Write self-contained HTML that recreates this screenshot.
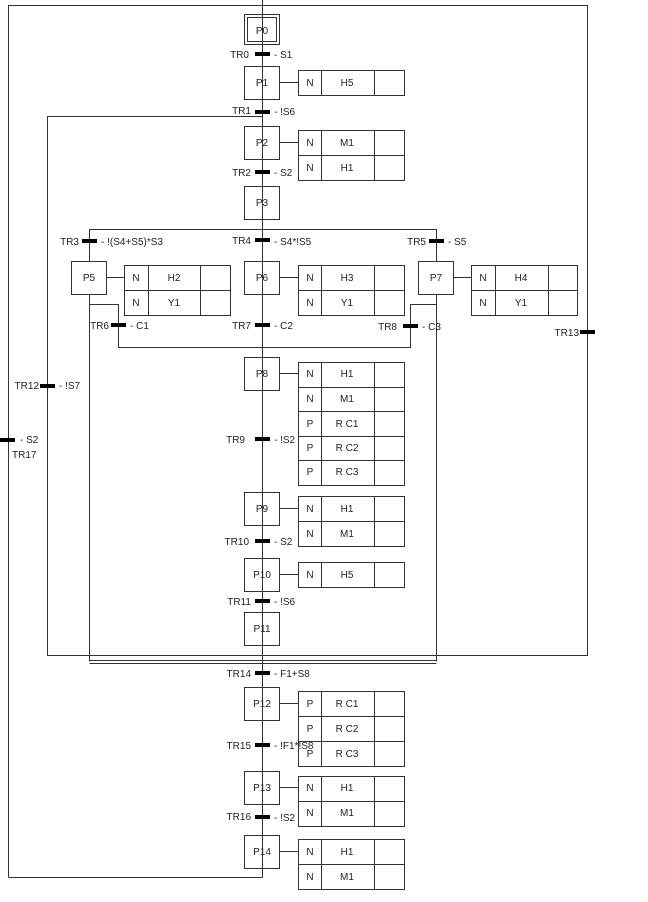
<!DOCTYPE html>
<html><head><meta charset="utf-8"><style>
html,body{margin:0;padding:0;background:#fff;width:648px;height:902px;overflow:hidden}
svg text{font-family:"Liberation Sans",Arial,sans-serif;font-size:10px;fill:#222}
</style></head><body>
<svg width="648" height="902" viewBox="0 0 648 902" xmlns="http://www.w3.org/2000/svg" shape-rendering="crispEdges">
<g stroke="#333" stroke-width="1" fill="none">
<!-- outer loops -->
<polyline points="8.5,877.5 8.5,5.5 587.5,5.5 587.5,655.5 47.5,655.5 47.5,116.5 262.5,116.5"/>
<line x1="8.5" y1="877.5" x2="262.5" y2="877.5"/>
<!-- main axis -->
<line x1="262.5" y1="0" x2="262.5" y2="877.5"/>
<!-- parallel rect -->
<polyline points="89.5,661.5 89.5,229.5 436.5,229.5 436.5,661.5"/>
<line x1="89.5" y1="660.5" x2="436.5" y2="660.5"/>
<line x1="89.5" y1="663.5" x2="436.5" y2="663.5"/>
<polyline points="89.5,304.5 118.5,304.5 118.5,347.5 410.5,347.5 410.5,304.5 436.5,304.5"/>
<!-- steps -->
<g fill="#fff">
<rect x="244.5" y="14.5" width="35" height="30"/>
<rect x="244.5" y="66.5" width="35" height="33"/>
<rect x="244.5" y="126.5" width="35" height="33"/>
<rect x="244.5" y="186.5" width="35" height="33"/>
<rect x="71.5" y="261.5" width="35" height="33"/>
<rect x="244.5" y="261.5" width="35" height="33"/>
<rect x="418.5" y="261.5" width="35" height="33"/>
<rect x="244.5" y="357.5" width="35" height="33"/>
<rect x="244.5" y="492.5" width="35" height="33"/>
<rect x="244.5" y="558.5" width="35" height="33"/>
<rect x="244.5" y="612.5" width="35" height="33"/>
<rect x="244.5" y="687.5" width="35" height="33"/>
<rect x="244.5" y="771.5" width="35" height="33"/>
<rect x="244.5" y="835.5" width="35" height="33"/>
</g>
<rect x="247.5" y="17.5" width="29" height="24"/>
<line x1="262.5" y1="14" x2="262.5" y2="877"/>
<!-- connectors -->
<line x1="280" y1="82.5" x2="298" y2="82.5"/>
<line x1="280" y1="142.5" x2="298" y2="142.5"/>
<line x1="107" y1="277.5" x2="124" y2="277.5"/>
<line x1="280" y1="277.5" x2="298" y2="277.5"/>
<line x1="454" y1="277.5" x2="471" y2="277.5"/>
<line x1="280" y1="373.5" x2="298" y2="373.5"/>
<line x1="280" y1="508.5" x2="298" y2="508.5"/>
<line x1="280" y1="574.5" x2="298" y2="574.5"/>
<line x1="280" y1="703.5" x2="298" y2="703.5"/>
<line x1="280" y1="787.5" x2="298" y2="787.5"/>
<line x1="280" y1="851.5" x2="298" y2="851.5"/>
<!-- tables -->
<rect x="298.5" y="70.5" width="106" height="25"/><line x1="321.5" y1="70" x2="321.5" y2="95"/><line x1="374.5" y1="70" x2="374.5" y2="95"/>
<rect x="298.5" y="130.5" width="106" height="50"/><line x1="298" y1="155.5" x2="404" y2="155.5"/><line x1="321.5" y1="130" x2="321.5" y2="180"/><line x1="374.5" y1="130" x2="374.5" y2="180"/>
<rect x="124.5" y="265.5" width="106" height="50"/><line x1="124" y1="290.5" x2="230" y2="290.5"/><line x1="148.5" y1="265" x2="148.5" y2="315"/><line x1="200.5" y1="265" x2="200.5" y2="315"/>
<rect x="298.5" y="265.5" width="106" height="50"/><line x1="298" y1="290.5" x2="404" y2="290.5"/><line x1="321.5" y1="265" x2="321.5" y2="315"/><line x1="374.5" y1="265" x2="374.5" y2="315"/>
<rect x="471.5" y="265.5" width="106" height="50"/><line x1="471" y1="290.5" x2="577" y2="290.5"/><line x1="495.5" y1="265" x2="495.5" y2="315"/><line x1="548.5" y1="265" x2="548.5" y2="315"/>
<rect x="298.5" y="362.5" width="106" height="123"/><line x1="298" y1="387.5" x2="404" y2="387.5"/><line x1="298" y1="411.5" x2="404" y2="411.5"/><line x1="298" y1="436.5" x2="404" y2="436.5"/><line x1="298" y1="460.5" x2="404" y2="460.5"/><line x1="321.5" y1="362" x2="321.5" y2="485"/><line x1="374.5" y1="362" x2="374.5" y2="485"/>
<rect x="298.5" y="496.5" width="106" height="50"/><line x1="298" y1="521.5" x2="404" y2="521.5"/><line x1="321.5" y1="496" x2="321.5" y2="546"/><line x1="374.5" y1="496" x2="374.5" y2="546"/>
<rect x="298.5" y="562.5" width="106" height="25"/><line x1="321.5" y1="562" x2="321.5" y2="587"/><line x1="374.5" y1="562" x2="374.5" y2="587"/>
<rect x="298.5" y="691.5" width="106" height="75"/><line x1="298" y1="716.5" x2="404" y2="716.5"/><line x1="298" y1="741.5" x2="404" y2="741.5"/><line x1="321.5" y1="691" x2="321.5" y2="766"/><line x1="374.5" y1="691" x2="374.5" y2="766"/>
<rect x="298.5" y="776.5" width="106" height="50"/><line x1="298" y1="801.5" x2="404" y2="801.5"/><line x1="321.5" y1="776" x2="321.5" y2="826"/><line x1="374.5" y1="776" x2="374.5" y2="826"/>
<rect x="298.5" y="839.5" width="106" height="50"/><line x1="298" y1="864.5" x2="404" y2="864.5"/><line x1="321.5" y1="839" x2="321.5" y2="889"/><line x1="374.5" y1="839" x2="374.5" y2="889"/>
</g>
<!-- transition bars -->
<g fill="#000">
<rect x="255" y="52" width="15" height="4"/>
<rect x="255" y="110" width="15" height="4"/>
<rect x="255" y="170" width="15" height="4"/>
<rect x="82" y="239" width="15" height="4"/>
<rect x="255" y="238" width="15" height="4"/>
<rect x="429" y="239" width="15" height="4"/>
<rect x="111" y="323" width="15" height="4"/>
<rect x="255" y="323" width="15" height="4"/>
<rect x="403" y="324" width="15" height="4"/>
<rect x="580" y="330" width="15" height="4"/>
<rect x="40" y="384" width="15" height="4"/>
<rect x="0" y="438" width="15" height="4"/>
<rect x="255" y="437" width="15" height="4"/>
<rect x="255" y="539" width="15" height="4"/>
<rect x="255" y="599" width="15" height="4"/>
<rect x="255" y="671" width="15" height="4"/>
<rect x="255" y="743" width="15" height="4"/>
<rect x="255" y="815" width="15" height="4"/>
</g>
<!-- step labels -->
<g text-anchor="middle">
<text x="262" y="34">P0</text><text x="262" y="86">P1</text><text x="262" y="146">P2</text><text x="262" y="206">P3</text>
<text x="89" y="281">P5</text><text x="262" y="281">P6</text><text x="436" y="281">P7</text>
<text x="262" y="377">P8</text><text x="262" y="512">P9</text><text x="262" y="578">P10</text><text x="262" y="632">P11</text>
<text x="262" y="707">P12</text><text x="262" y="791">P13</text><text x="262" y="855">P14</text>
<!-- table text -->
<text x="310" y="86">N</text><text x="347" y="86">H5</text>
<text x="310" y="146">N</text><text x="347" y="146">M1</text><text x="310" y="171">N</text><text x="347" y="171">H1</text>
<text x="136" y="281">N</text><text x="174" y="281">H2</text><text x="136" y="306">N</text><text x="174" y="306">Y1</text>
<text x="310" y="281">N</text><text x="347" y="281">H3</text><text x="310" y="306">N</text><text x="347" y="306">Y1</text>
<text x="483" y="281">N</text><text x="521" y="281">H4</text><text x="483" y="306">N</text><text x="521" y="306">Y1</text>
<text x="310" y="377">N</text><text x="347" y="377">H1</text>
<text x="310" y="402">N</text><text x="347" y="402">M1</text>
<text x="310" y="427">P</text><text x="347" y="427">R C1</text>
<text x="310" y="451">P</text><text x="347" y="451">R C2</text>
<text x="310" y="475">P</text><text x="347" y="475">R C3</text>
<text x="310" y="512">N</text><text x="347" y="512">H1</text><text x="310" y="537">N</text><text x="347" y="537">M1</text>
<text x="310" y="578">N</text><text x="347" y="578">H5</text>
<text x="310" y="707">P</text><text x="347" y="707">R C1</text>
<text x="310" y="732">P</text><text x="347" y="732">R C2</text>
<text x="310" y="757">P</text><text x="347" y="757">R C3</text>
<text x="310" y="791">N</text><text x="347" y="791">H1</text><text x="310" y="816">N</text><text x="347" y="816">M1</text>
<text x="310" y="855">N</text><text x="347" y="855">H1</text><text x="310" y="880">N</text><text x="347" y="880">M1</text>
</g>
<!-- transition labels -->
<g text-anchor="end">
<text x="249" y="58">TR0</text><text x="251" y="114">TR1</text><text x="251" y="176">TR2</text>
<text x="79" y="245">TR3</text><text x="251" y="244">TR4</text><text x="426" y="245">TR5</text>
<text x="109" y="329">TR6</text><text x="251" y="329">TR7</text><text x="397" y="330">TR8</text>
<text x="579" y="336">TR13</text><text x="39" y="389">TR12</text>
<text x="245" y="443">TR9</text><text x="249" y="545">TR10</text><text x="251" y="605">TR11</text>
<text x="251" y="677">TR14</text><text x="251" y="749">TR15</text><text x="251" y="820">TR16</text>
</g>
<text x="274" y="58">- S1</text><text x="274" y="115">- !S6</text><text x="274" y="176">- S2</text>
<text x="101" y="245">- !(S4+S5)*S3</text><text x="274" y="245">- S4*!S5</text><text x="448" y="245">- S5</text>
<text x="130" y="329">- C1</text><text x="274" y="329">- C2</text><text x="422" y="330">- C3</text>
<text x="59" y="389">- !S7</text><text x="20" y="443">- S2</text><text x="12" y="458">TR17</text>
<text x="274" y="443">- !S2</text><text x="274" y="545">- S2</text><text x="274" y="605">- !S6</text>
<text x="274" y="677">- F1+S8</text><text x="274" y="749">- !F1*!S8</text><text x="274" y="821">- !S2</text>
</svg>
</body></html>
